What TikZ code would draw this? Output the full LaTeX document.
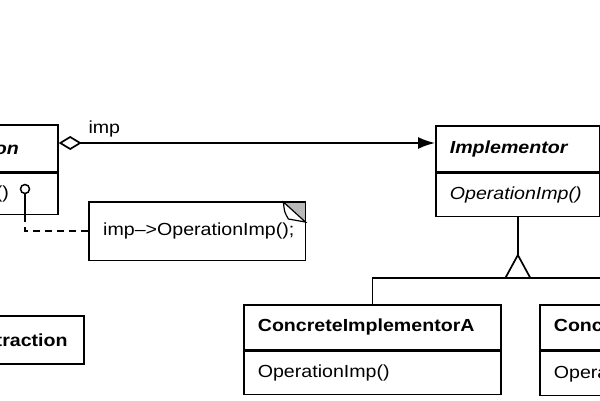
\documentclass[tikz,border=0pt]{standalone}
\usepackage{fontspec}
\setmainfont{Liberation Sans}[FakeStretch=1.12]
\usetikzlibrary{arrows.meta,calc}
\newcommand\myfs{\fontsize{17.5}{21}\selectfont}
\begin{document}
\begin{tikzpicture}[x=1pt,y=-1pt,
  every node/.style={font=\myfs},
  ln/.style={line width=1.7pt},
  cls/.style={draw, line width=1.7pt, anchor=north west, inner xsep=14pt, inner ysep=0pt, align=left},
  ttl/.style={cls, font=\myfs\bfseries\itshape},
  ttlb/.style={cls, font=\myfs\bfseries},
  opit/.style={cls, font=\myfs\itshape},
  op/.style={cls}
]
\useasboundingbox (0,0) rectangle (600,400);
\clip (0,0) rectangle (600,400);

% Abstraction
\node[ttl, text width=134pt, minimum height=47pt] (absT) at (-105,124) {Abstraction};
\node[op, text width=134pt, minimum height=41pt] (absO) at (absT.south west) {Operation()};

% Implementor
\node[ttl, text width=136pt, minimum height=46pt] (implT) at (435,125) {Implementor};
\node[opit, text width=136pt, minimum height=43pt] (implO) at (implT.south west) {OperationImp()};

% RefinedAbstraction
\node[ttlb, text width=183pt, minimum height=48pt] (ref) at (-128,315) {RefinedAbstraction};

% Concrete implementors
\node[ttlb, text width=229pt, minimum height=45pt] (cAT) at (243,304) {ConcreteImplementorA};
\node[op, text width=229pt, minimum height=43pt] (cAO) at (cAT.south west) {OperationImp()};
\node[ttlb, text width=229pt, minimum height=45pt] (cBT) at (539,304) {ConcreteImplementorB};
\node[op, text width=229pt, minimum height=44pt] (cBO) at (cBT.south west) {OperationImp()};

% aggregation imp
\draw[ln, {Diamond[open,length=23pt,width=14pt]}-{Latex[length=17pt,width=12pt]}]
  ($(absT.north east)+(0,19)$) coordinate (aggS) -- ($(implT.north west)+(0,18)$);
\node[anchor=base west] (implab) at (85,133) {imp};

% note
\node[anchor=north west, inner xsep=14pt, inner ysep=0pt, text width=188pt, minimum height=58pt, align=left] (note) at (89,202) {\mbox{imp–>OperationImp();}};
\fill[gray!55] ($(note.north east)+(-22,0)$) -- (note.north east) -- ($(note.north east)+(0,20)$) -- cycle;
\draw[ln] (note.north west) rectangle (note.south east);
\draw[line width=1.2pt, fill=white] ($(note.north east)+(-22,0)$) .. controls ($(note.north east)+(-21,10)$) .. ($(note.north east)+(-17,17)$) -- ($(note.north east)+(0,20)$) -- cycle;

% lollipop
\node[circle, draw, line width=1.5pt, minimum size=9pt, inner sep=0pt] (lol) at (25,189) {};
\draw[ln] (lol) -- (lol |- absO.south) coordinate (stem);
\draw[ln, dash pattern=on 7pt off 5pt] (stem) -- (stem |- note.west) -- (note.west);

% inheritance
\coordinate (jy) at (0,278);
\coordinate (junc) at (implO.south |- jy);
\draw[ln] (implO.south) -- ($(junc)+(0,-23)$);
\draw[ln] (cAT.north) -- (cAT.north |- jy) -- (cBT.north |- jy) -- (cBT.north);
\draw[ln, fill=white] ($(junc)+(-12.5,0)$) -- ($(junc)+(0,-23)$) -- ($(junc)+(12.5,0)$) -- cycle;
\end{tikzpicture}
\end{document}
